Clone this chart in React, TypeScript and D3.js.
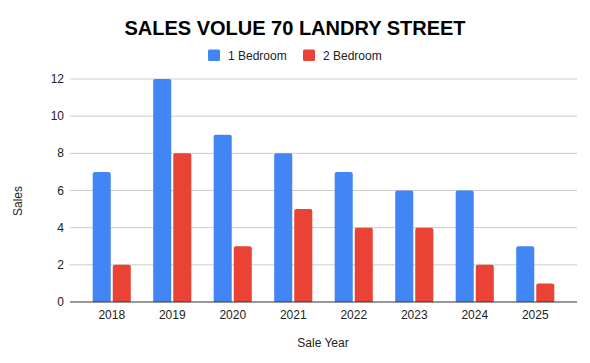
import React, { useRef, useEffect } from 'react';
import * as d3 from 'd3';

const years = ['2018', '2019', '2020', '2021', '2022', '2023', '2024', '2025'];
const oneBedroom = [7, 12, 9, 8, 7, 6, 6, 3];
const twoBedroom = [2, 8, 3, 5, 4, 4, 2, 1];
const seriesNames = ['1 Bedroom', '2 Bedroom'];
const yTicks = [0, 2, 4, 6, 8, 10, 12];

const colors = ['#4285f4', '#ea4335'];

// bar with rounded top corners
const topRounded = (x: number, y: number, w: number, h: number, r: number) => {
  r = Math.min(r, h, w / 2);
  return `M${x},${y + h}V${y + r}Q${x},${y} ${x + r},${y}H${x + w - r}Q${x + w},${y} ${x + w},${y + r}V${y + h}Z`;
};

const App = () => {
  const ref = useRef<SVGSVGElement>(null);

  useEffect(() => {
    const width = 590;
    const height = 363;
    const left = 70, right = 577, top = 79, bottom = 302;

    const svg = d3.select(ref.current);
    svg.selectAll('*').remove();
    svg.attr('width', width).attr('height', height);
    const font = 'Arial, "Liberation Sans", sans-serif';

    const x = d3.scaleBand().domain(years).range([left, right]).paddingInner(0.37).paddingOuter(0.375);
    const x1 = d3.scaleBand().domain(['0', '1']).range([0, x.bandwidth()]).paddingInner(0.1);
    const y = d3.scaleLinear().domain([0, 12]).range([bottom, top]);

    // grid
    svg.append('g')
      .selectAll('line')
      .data(yTicks.filter(d => d > 0))
      .join('line')
      .attr('x1', left).attr('x2', right)
      .attr('y1', d => y(d)).attr('y2', d => y(d))
      .attr('stroke', '#cccccc').attr('stroke-width', 1);

    svg.append('g')
      .selectAll('text')
      .data(yTicks)
      .join('text')
      .attr('x', left - 6)
      .attr('y', d => y(d) + 4)
      .attr('text-anchor', 'end')
      .attr('font-family', font).attr('font-size', 12).attr('fill', '#222')
      .text(d => d);

    const series = [oneBedroom, twoBedroom];
    series.forEach((vals, si) => {
      svg.append('g')
        .selectAll('path')
        .data(vals)
        .join('path')
        .attr('fill', colors[si])
        .attr('d', (d, i) => {
          const bx = (x(years[i]) as number) + (x1(String(si)) as number);
          return topRounded(bx, y(d), x1.bandwidth(), y(0) - y(d), 2);
        });
    });

    // baseline
    svg.append('line')
      .attr('x1', left).attr('x2', right)
      .attr('y1', y(0)).attr('y2', y(0))
      .attr('stroke', '#333').attr('stroke-width', 1);

    svg.append('g')
      .selectAll('text')
      .data(years)
      .join('text')
      .attr('x', d => (x(d) as number) + x.bandwidth() / 2)
      .attr('y', bottom + 17)
      .attr('text-anchor', 'middle')
      .attr('font-family', font).attr('font-size', 12).attr('fill', '#222')
      .text(d => d);

    // title
    svg.append('text')
      .attr('x', 295).attr('y', 35)
      .attr('text-anchor', 'middle')
      .attr('font-family', font).attr('font-size', 20).attr('font-weight', 'bold').attr('fill', '#000')
      .text('SALES VOLUE 70 LANDRY STREET');

    // legend
    const legendX = [208, 303];
    seriesNames.forEach((name, i) => {
      svg.append('rect')
        .attr('x', legendX[i]).attr('y', 49.5)
        .attr('width', 12).attr('height', 11.5).attr('rx', 1.5)
        .attr('fill', colors[i]);
      svg.append('text')
        .attr('x', legendX[i] + 20).attr('y', 59.5)
        .attr('font-family', font).attr('font-size', 12).attr('fill', '#222')
        .text(name);
    });

    // axis titles
    svg.append('text')
      .attr('transform', 'translate(22,201) rotate(-90)')
      .attr('text-anchor', 'middle')
      .attr('font-family', font).attr('font-size', 12).attr('fill', '#222')
      .text('Sales');
    svg.append('text')
      .attr('x', 323).attr('y', 347)
      .attr('text-anchor', 'middle')
      .attr('font-family', font).attr('font-size', 12).attr('fill', '#222')
      .text('Sale Year');
  }, []);

  return (
    <div style={{ position: 'absolute', left: 0, top: 0 }}>
      <svg ref={ref}></svg>
    </div>
  );
};

export default App;
